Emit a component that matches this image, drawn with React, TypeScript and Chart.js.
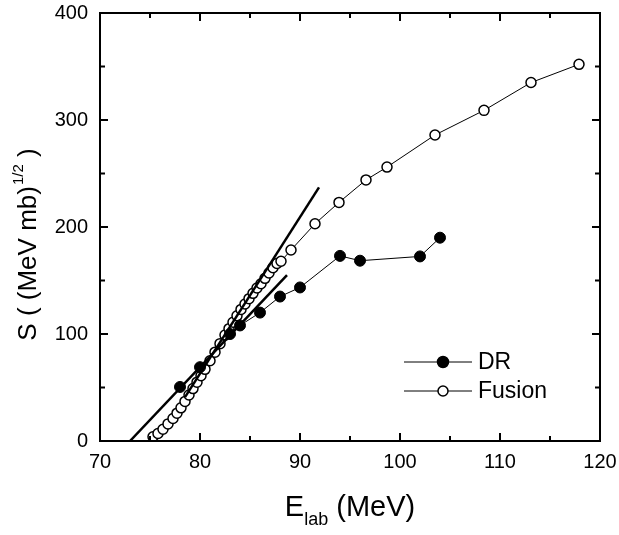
import React, { useEffect, useRef } from 'react';
import { Chart, registerables } from 'chart.js';

Chart.register(...registerables);

// ---- data ----
const fusionE = [75.3, 75.8, 76.3, 76.8, 77.3, 77.7, 78.1, 78.5, 78.9, 79.3, 79.7, 80.1, 80.5, 81.0, 81.5, 82.0, 82.5, 82.9, 83.3, 83.7, 84.1, 84.5, 84.9, 85.3, 85.7, 86.1, 86.5, 86.9, 87.3, 87.7, 88.1, 89.1, 91.5, 93.9, 96.6, 98.7, 103.5, 108.4, 113.1, 117.9];
const fusionS = [4, 7, 11, 16, 21, 26, 31, 37, 43, 49, 55, 61, 67, 75, 83, 91, 99, 105, 111, 117, 123, 128, 133, 138, 143, 147, 152, 157, 162, 166, 168, 178.5, 203, 223, 244, 256, 286, 309, 335, 352];
const drE = [78, 80, 83, 84, 86, 88, 90, 94, 96, 102, 104];
const drS = [50.5, 69, 100, 108, 120, 135, 143.5, 173, 168.5, 172.5, 190];
const fitAE = [73, 88.7];
const fitAS = [0, 155];
const fitBE = [78.5, 91.9];
const fitBS = [41, 237];
const xTicks = [70, 80, 90, 100, 110, 120];
const yTicks = [0, 100, 200, 300, 400];
const legendLabels = ['DR', 'Fusion'];

const FONT = '"Liberation Sans", Arial, Helvetica, sans-serif';

const toPts = (xs: number[], ys: number[]) => xs.map((v, i) => ({ x: v, y: ys[i] }));

const framePlugin = {
  id: 'frameAndText',
  afterDraw(chart: any) {
    const { ctx, chartArea, scales } = chart;
    const { left, top, right, bottom } = chartArea;
    const xs = scales.x;
    const ys = scales.y;
    ctx.save();
    ctx.strokeStyle = '#000';
    ctx.fillStyle = '#000';
    ctx.lineWidth = 2;
    ctx.strokeRect(left, top, right - left, bottom - top);

    // ticks (major + minor at midpoints), inward on all four sides
    const xMinor = xTicks.slice(1).map((v, i) => (v + xTicks[i]) / 2);
    const yMinor = yTicks.slice(1).map((v, i) => (v + yTicks[i]) / 2);
    ctx.beginPath();
    const xt = (vals: number[], len: number) => {
      vals.forEach((v) => {
        const p = xs.getPixelForValue(v);
        ctx.moveTo(p, bottom);
        ctx.lineTo(p, bottom - len);
        ctx.moveTo(p, top);
        ctx.lineTo(p, top + len);
      });
    };
    const yt = (vals: number[], len: number) => {
      vals.forEach((v) => {
        const p = ys.getPixelForValue(v);
        ctx.moveTo(left, p);
        ctx.lineTo(left + len, p);
        ctx.moveTo(right, p);
        ctx.lineTo(right - len, p);
      });
    };
    xt(xTicks, 8);
    xt(xMinor, 5);
    yt(yTicks, 8);
    yt(yMinor, 5);
    ctx.stroke();

    // x-axis title: E_lab (MeV)
    const cx = (left + right) / 2;
    const bigX = `29px ${FONT}`;
    const subX = `18px ${FONT}`;
    ctx.textBaseline = 'alphabetic';
    ctx.font = bigX;
    const wE = ctx.measureText('E').width;
    const wRest = ctx.measureText(' (MeV)').width;
    ctx.font = subX;
    const wSub = ctx.measureText('lab').width;
    let sx = cx - (wE + wSub + wRest) / 2;
    const by = 516;
    ctx.font = bigX;
    ctx.textAlign = 'left';
    ctx.fillText('E', sx, by);
    sx += wE;
    ctx.font = subX;
    ctx.fillText('lab', sx, by + 9);
    sx += wSub;
    ctx.font = bigX;
    ctx.fillText(' (MeV)', sx, by);

    // y-axis title: S ( (MeV mb)^1/2 )
    ctx.save();
    ctx.translate(36, 245);
    ctx.rotate(-Math.PI / 2);
    const bigY = `26px ${FONT}`;
    const supY = `15px ${FONT}`;
    ctx.font = bigY;
    const p1 = 'S ( (MeV mb)';
    const p3 = ' )';
    const w1 = ctx.measureText(p1).width;
    const w3 = ctx.measureText(p3).width;
    ctx.font = supY;
    const w2 = ctx.measureText('1/2').width;
    let ty = -(w1 + w2 + w3) / 2;
    ctx.font = bigY;
    ctx.fillText(p1, ty, 0);
    ty += w1;
    ctx.font = supY;
    ctx.fillText('1/2', ty + 1, -13);
    ty += w2 + 1;
    ctx.font = bigY;
    ctx.fillText(p3, ty, 0);
    ctx.restore();

    // legend
    const legY = [362, 391];
    const legFont = `23px ${FONT}`;
    legendLabels.forEach((lab, i) => {
      const yy = legY[i];
      ctx.beginPath();
      ctx.lineWidth = 1;
      ctx.moveTo(404, yy);
      ctx.lineTo(472, yy);
      ctx.stroke();
      ctx.beginPath();
      ctx.arc(443, yy, i === 0 ? 5.5 : 5, 0, Math.PI * 2);
      ctx.fillStyle = i === 0 ? '#000' : '#fff';
      ctx.fill();
      ctx.lineWidth = 1.5;
      ctx.stroke();
      ctx.fillStyle = '#000';
      ctx.font = legFont;
      ctx.textBaseline = 'middle';
      ctx.textAlign = 'left';
      ctx.fillText(lab, 478, yy + 1);
    });
    ctx.restore();
  },
};

export default function App() {
  const ref = useRef<HTMLCanvasElement | null>(null);
  useEffect(() => {
    if (!ref.current) return;
    const chart = new Chart(ref.current, {
      type: 'scatter',
      data: {
        datasets: [
          {
            label: 'DR',
            data: toPts(drE, drS),
            showLine: true,
            order: 2,
            borderColor: '#000',
            borderWidth: 1,
            pointRadius: 5.5,
            pointBackgroundColor: '#000',
            pointBorderColor: '#000',
            pointBorderWidth: 1,
          },
          {
            label: 'Fusion',
            data: toPts(fusionE, fusionS),
            showLine: true,
            order: 3,
            borderColor: '#000',
            borderWidth: 1,
            pointRadius: 5,
            pointBackgroundColor: '#fff',
            pointBorderColor: '#000',
            pointBorderWidth: 1.5,
          },
          {
            label: 'fitA',
            data: toPts(fitAE, fitAS),
            showLine: true,
            order: 1,
            borderColor: '#000',
            borderWidth: 2.5,
            pointRadius: 0,
          },
          {
            label: 'fitB',
            data: toPts(fitBE, fitBS),
            showLine: true,
            order: 1,
            borderColor: '#000',
            borderWidth: 2.5,
            pointRadius: 0,
          },
        ],
      },
      options: {
        responsive: false,
        animation: false,
        layout: { padding: { top: 13, right: 19, left: 0, bottom: 0 } },
        plugins: { legend: { display: false }, tooltip: { enabled: false } },
        scales: {
          x: {
            type: 'linear',
            min: 70,
            max: 120,
            afterFit: (s: any) => {
              s.height = 94;
              s.paddingLeft = 0;
              s.paddingRight = 0;
              s.paddingTop = 0;
              s.paddingBottom = 0;
            },
            afterBuildTicks: (s: any) => { s.ticks = xTicks.map((v) => ({ value: v })); },
            grid: { display: false, drawTicks: false },
            border: { display: false },
            ticks: { padding: 9, color: '#000', font: { family: FONT, size: 20 }, maxRotation: 0 },
          },
          y: {
            type: 'linear',
            min: 0,
            max: 400,
            afterFit: (s: any) => {
              s.width = 100;
              s.paddingTop = 0;
              s.paddingBottom = 0;
              s.paddingLeft = 0;
              s.paddingRight = 0;
            },
            afterBuildTicks: (s: any) => { s.ticks = yTicks.map((v) => ({ value: v })); },
            grid: { display: false, drawTicks: false },
            border: { display: false },
            ticks: { padding: 12, color: '#000', font: { family: FONT, size: 20 } },
          },
        },
      },
      plugins: [framePlugin],
    });
    return () => chart.destroy();
  }, []);
  return (
    <div style={{ position: 'absolute', left: 0, top: 0, width: 619, height: 535, background: '#fff' }}>
      <canvas ref={ref} width={619} height={535} style={{ width: 619, height: 535, display: 'block' }} />
    </div>
  );
}
